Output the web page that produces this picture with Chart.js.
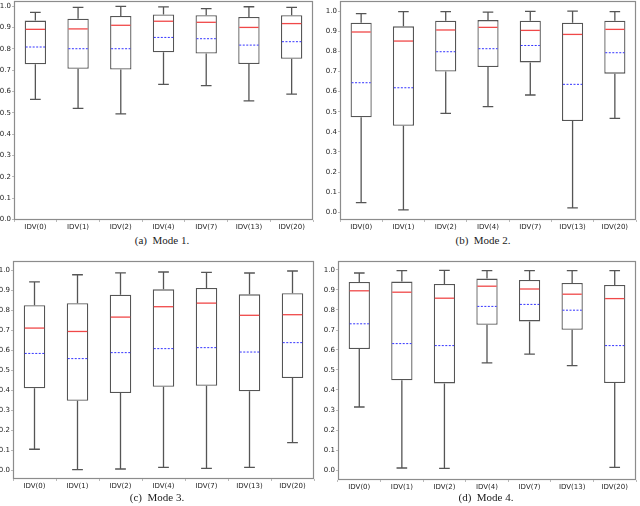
<!DOCTYPE html>
<html>
<head>
<meta charset="utf-8">
<script src="https://cdn.jsdelivr.net/npm/chart.js@4"></script>
<style>
  body { margin: 0; background: #fff; }
  #wrap { position: relative; width: 640px; height: 506px; overflow: hidden; }
  .panel { position: absolute; }
  .cap { position: absolute; width: 200px; text-align: center; font-family: 'Liberation Serif', serif; font-size: 11px; color: #222; white-space: pre; }
</style>
</head>
<body>
<div id="wrap">
  <div class="panel" style="left:0;top:0;width:320px;height:234px"><canvas id="c1"></canvas></div>
  <div class="panel" style="left:320px;top:0;width:320px;height:234px"><canvas id="c2"></canvas></div>
  <div class="panel" style="left:0;top:260px;width:320px;height:233px"><canvas id="c3"></canvas></div>
  <div class="panel" style="left:320px;top:260px;width:320px;height:234px"><canvas id="c4"></canvas></div>
  <div class="cap" style="left:62px;top:234px">(a)  Mode 1.</div>
  <div class="cap" style="left:383px;top:234px">(b)  Mode 2.</div>
  <div class="cap" style="left:57px;top:491px">(c)  Mode 3.</div>
  <div class="cap" style="left:386px;top:491px">(d)  Mode 4.</div>
</div>
<script>
const categories = ['IDV(0)', 'IDV(1)', 'IDV(2)', 'IDV(4)', 'IDV(7)', 'IDV(13)', 'IDV(20)'];
const yTicks = [0.0, 0.1, 0.2, 0.3, 0.4, 0.5, 0.6, 0.7, 0.8, 0.9, 1.0];

// Mode 1
const mode1Low    = [0.563, 0.521, 0.495, 0.634, 0.628, 0.556, 0.588];
const mode1Q1     = [0.728, 0.707, 0.703, 0.784, 0.778, 0.729, 0.754];
const mode1Median = [0.892, 0.894, 0.911, 0.930, 0.925, 0.901, 0.919];
const mode1Mean   = [0.809, 0.801, 0.801, 0.854, 0.848, 0.818, 0.834];
const mode1Q3     = [0.933, 0.942, 0.955, 0.962, 0.958, 0.950, 0.958];
const mode1High   = [0.972, 0.995, 1.000, 0.997, 0.989, 0.998, 0.995];

// Mode 2
const mode2Low    = [0.048, 0.012, 0.492, 0.525, 0.583, 0.022, 0.467];
const mode2Q1     = [0.472, 0.430, 0.700, 0.722, 0.745, 0.454, 0.689];
const mode2Median = [0.896, 0.851, 0.906, 0.919, 0.904, 0.884, 0.909];
const mode2Mean   = [0.644, 0.619, 0.798, 0.813, 0.829, 0.636, 0.793];
const mode2Q3     = [0.942, 0.924, 0.952, 0.955, 0.952, 0.942, 0.952];
const mode2High   = [0.987, 0.997, 0.997, 0.995, 0.998, 1.000, 0.997];

// Mode 3
const mode3Low    = [0.104, 0.002, 0.005, 0.013, 0.008, 0.013, 0.137];
const mode3Q1     = [0.409, 0.347, 0.386, 0.417, 0.422, 0.394, 0.461];
const mode3Median = [0.711, 0.694, 0.766, 0.818, 0.836, 0.775, 0.778];
const mode3Mean   = [0.584, 0.558, 0.588, 0.608, 0.613, 0.591, 0.638];
const mode3Q3     = [0.825, 0.835, 0.878, 0.905, 0.912, 0.880, 0.886];
const mode3High   = [0.942, 0.978, 0.988, 0.992, 0.990, 0.987, 0.997];

// Mode 4
const mode4Low    = [0.315, 0.010, 0.008, 0.536, 0.579, 0.522, 0.013];
const mode4Q1     = [0.605, 0.449, 0.433, 0.726, 0.743, 0.701, 0.435];
const mode4Median = [0.896, 0.889, 0.859, 0.919, 0.905, 0.879, 0.857];
const mode4Mean   = [0.731, 0.632, 0.622, 0.818, 0.828, 0.799, 0.622];
const mode4Q3     = [0.940, 0.942, 0.930, 0.957, 0.950, 0.935, 0.925];
const mode4High   = [0.985, 0.997, 0.998, 0.997, 0.997, 0.997, 0.997];

const tickFont = { family: 'DejaVu Sans', size: 7 };
const tickColor = '#222';

// whiskers, caps, median and mean lines, plus the full axes frame
const boxExtras = {
  id: 'boxExtras',
  afterDatasetsDraw(chart) {
    const ds = chart.data.datasets[0];
    const meta = chart.getDatasetMeta(0);
    const y = chart.scales.y;
    const ctx = chart.ctx;
    ctx.save();
    meta.data.forEach((bar, i) => {
      const x = bar.x;
      const half = bar.width / 2;
      const cap = bar.width / 4;
      ctx.strokeStyle = '#555';
      ctx.lineWidth = 1.3;
      ctx.setLineDash([]);
      ctx.beginPath();
      ctx.moveTo(x, y.getPixelForValue(ds.q3[i]));
      ctx.lineTo(x, y.getPixelForValue(ds.high[i]));
      ctx.moveTo(x - cap, y.getPixelForValue(ds.high[i]));
      ctx.lineTo(x + cap, y.getPixelForValue(ds.high[i]));
      ctx.moveTo(x, y.getPixelForValue(ds.q1[i]));
      ctx.lineTo(x, y.getPixelForValue(ds.low[i]));
      ctx.moveTo(x - cap, y.getPixelForValue(ds.low[i]));
      ctx.lineTo(x + cap, y.getPixelForValue(ds.low[i]));
      ctx.stroke();

      ctx.strokeStyle = '#f04848';
      ctx.lineWidth = 1.3;
      ctx.beginPath();
      ctx.moveTo(x - half + 1, y.getPixelForValue(ds.median[i]));
      ctx.lineTo(x + half - 1, y.getPixelForValue(ds.median[i]));
      ctx.stroke();

      ctx.strokeStyle = '#3333ff';
      ctx.lineWidth = 1;
      ctx.setLineDash([2, 1.5]);
      ctx.beginPath();
      ctx.moveTo(x - half + 1, y.getPixelForValue(ds.mean[i]));
      ctx.lineTo(x + half - 1, y.getPixelForValue(ds.mean[i]));
      ctx.stroke();
    });
    const a = chart.chartArea;
    ctx.setLineDash([]);
    ctx.strokeStyle = '#8c8c8c';
    ctx.lineWidth = 1.2;
    ctx.strokeRect(a.left + 0.5, a.top + 0.5, a.right - a.left - 1, a.bottom - a.top - 1);
    ctx.restore();
  }
};

function boxChart(id, low, q1, median, mean, q3, high, yMin, yMax, axisW, padTop, padRight) {
  new Chart(document.getElementById(id), {
    type: 'bar',
    data: {
      labels: categories,
      datasets: [{
        data: categories.map((c, i) => [q1[i], q3[i]]),
        low: low, q1: q1, median: median, mean: mean, q3: q3, high: high,
        backgroundColor: '#fff',
        borderColor: '#555',
        borderWidth: 1.3,
        borderSkipped: false,
        barPercentage: 0.5,
        categoryPercentage: 1.0
      }]
    },
    options: {
      responsive: true,
      maintainAspectRatio: false,
      animation: false,
      layout: { padding: { top: padTop, right: padRight, left: 0, bottom: 0 } },
      plugins: { legend: { display: false }, tooltip: { enabled: false } },
      scales: {
        x: {
          grid: { display: true, drawOnChartArea: false, tickLength: 2, color: '#bbb' },
          border: { display: false },
          ticks: { font: tickFont, color: tickColor, padding: 1, maxRotation: 0 },
          afterFit: s => { s.height = 14; s.paddingLeft = 0; s.paddingRight = 0; }
        },
        y: {
          min: yMin,
          max: yMax,
          grid: { display: true, drawOnChartArea: false, tickLength: 2, color: '#bbb' },
          border: { display: false },
          afterBuildTicks: s => { s.ticks = yTicks.map(v => ({ value: v })); },
          ticks: { font: tickFont, color: tickColor, padding: 1, callback: v => v.toFixed(1) },
          afterFit: s => { s.width = axisW; s.paddingTop = 0; s.paddingBottom = 0; }
        }
      }
    },
    plugins: [boxExtras]
  });
}

boxChart('c1', mode1Low, mode1Q1, mode1Median, mode1Mean, mode1Q3, mode1High, -0.003, 1.025, 14, 1, 7);
boxChart('c2', mode2Low, mode2Q1, mode2Median, mode2Mean, mode2Q3, mode2High, -0.038, 1.05, 20, 1, 4);
boxChart('c3', mode3Low, mode3Q1, mode3Median, mode3Mean, mode3Q3, mode3High, -0.045, 1.047, 13, 1, 6);
boxChart('c4', mode4Low, mode4Q1, mode4Median, mode4Mean, mode4Q3, mode4High, -0.05, 1.045, 18, 1, 4);
</script>
</body>
</html>
